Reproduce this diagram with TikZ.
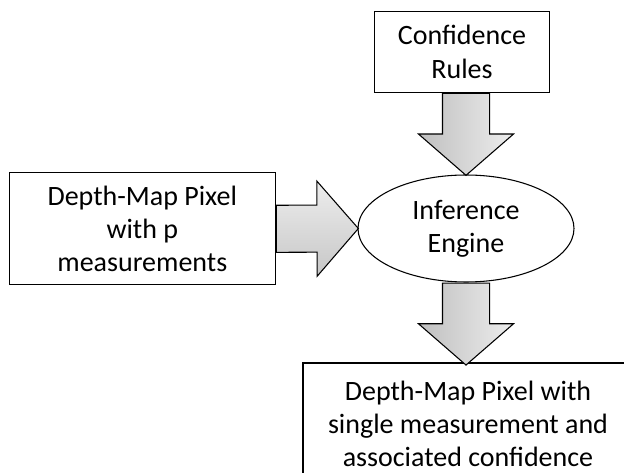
\documentclass[tikz,border=0pt]{standalone}
\usepackage{fontspec}
\setmainfont{Carlito}
\usetikzlibrary{shapes.geometric,shapes.arrows}

\begin{document}
\begin{tikzpicture}[x=0.75pt, y=-0.75pt, line width=0.8pt]
\tikzstyle{every node}=[font=\fontsize{21}{25}\selectfont, align=center, inner sep=0pt];
\tikzstyle{box}=[draw, rectangle];
\tikzstyle{bigarrow}=[draw, single arrow, single arrow tip angle=98,
  single arrow head extend=18pt, inner ysep=17.25pt, minimum height=61.5pt,
  pos=0, sloped, anchor=tail];
\tikzstyle{downshade}=[left color=black!25, right color=black!7];
\tikzstyle{rightshade}=[top color=black!7, bottom color=black!22];
\useasboundingbox (0,0) rectangle (624,473);
\clip (0,0) rectangle (624,473);
\node[box, minimum width=131.25pt, minimum height=60.4pt] (rules) at (462,52) {Confidence\\Rules};
\node[box, minimum width=199.5pt, minimum height=84pt] (pixel) at (142.3,228.8) {Depth-Map Pixel\\with p\\measurements};
\node[draw, ellipse, minimum width=162pt, minimum height=80.25pt] (engine) at (466,228.5) {Inference\\Engine};
\node[box, minimum width=247.5pt, minimum height=91.5pt] (result) at (468,424) {Depth-Map Pixel with\\single measurement and\\associated confidence};
\path (rules.south -| engine.north) -- node[bigarrow, downshade] (a1) {} (engine.north);
\path (pixel.east) -- node[bigarrow, rightshade] (a2) {} (engine.west);
\path (engine.south) -- node[bigarrow, downshade] (a3) {} (result.north -| engine.south);
\end{tikzpicture}
\end{document}
